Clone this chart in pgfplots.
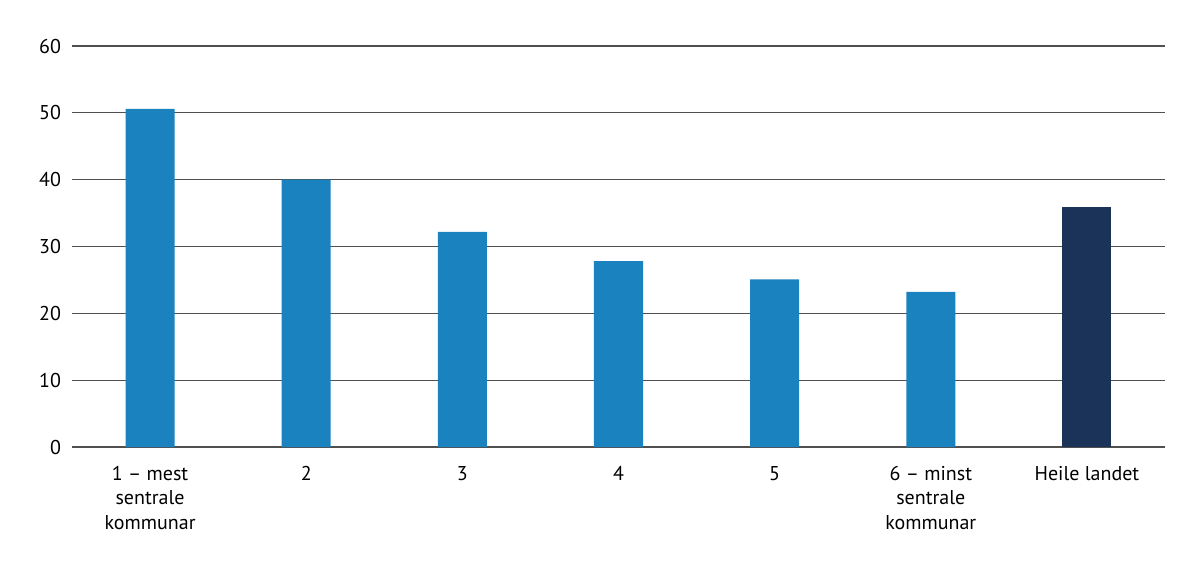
\documentclass[border=0pt]{standalone}
\usepackage{pgfplots}
\pgfplotsset{compat=1.18}
\usepackage{fontspec}
\setmainfont{PT Sans}
\definecolor{barblue}{RGB}{26,131,191}
\definecolor{barnavy}{RGB}{27,51,88}
\definecolor{gridc}{RGB}{80,80,80}
\begin{document}
\begin{tikzpicture}
\useasboundingbox (0,0) rectangle (600pt,284.5pt);
\begin{axis}[
  at={(36pt,61pt)}, anchor=south west,
  scale only axis, width=546.5pt, height=200.5pt,
  xmin=-0.5, xmax=6.5, ymin=0, ymax=60,
  ytick={0,10,...,60},
  xtick={0,...,6},
  xticklabels={{1 -- mest\\sentrale\\kommunar},2,3,4,5,{6 -- minst\\sentrale\\kommunar},Heile landet},
  xticklabel style={align=center, text depth=0pt},
  x tick label style={font=\fontsize{10pt}{12.2pt}\selectfont, yshift=-6pt},
  y tick label style={font=\fontsize{10pt}{12pt}\selectfont, xshift=-2pt},
  /pgf/number format/assume math mode=true,
  axis line style={draw=none},
  major tick length=0pt,
  ymajorgrids, major grid style={gridc, line width=0.55pt},
  ybar, bar width=0.314, bar shift=0pt,
]
\addplot[fill=barblue, draw=none] coordinates {(0,50.6) (1,40.0) (2,32.2) (3,27.8) (4,25.1) (5,23.2)};
\addplot[fill=barnavy, draw=none] coordinates {(6,35.9)};
\end{axis}
\end{tikzpicture}
\end{document}
